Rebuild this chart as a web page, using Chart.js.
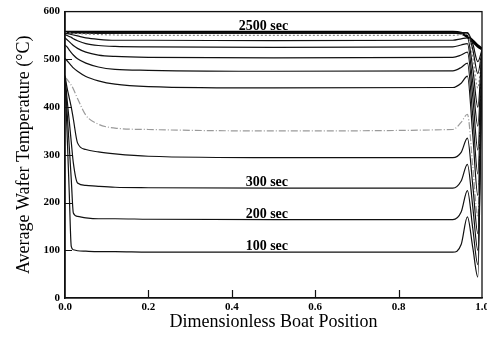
<!DOCTYPE html>
<html><head><meta charset="utf-8">
<script src="https://cdn.jsdelivr.net/npm/chart.js@4/dist/chart.umd.min.js"></script>
<style>html,body{margin:0;padding:0;background:#fff}#wrap{width:487px;height:339px}</style>
</head><body><div id="wrap"><canvas id="c"></canvas></div>
<script>
// Dimensionless boat position (x)
const positions = [0,0.005,0.01,0.015,0.02,0.03,0.05,0.08,0.12,0.2,0.5,0.93,0.95,0.965,0.978,0.99,1.0];
// Average wafer temperature (°C) per time
const t100  = [460,345,225,108,101,99,98,97,97,96,96,96,112,170,105,44,520];
const t200  = [462,390,320,249,178,171,168,166,166,165,164,164,180,225,145,70,520];
const t300  = [464,416,372,327,283,241,236,234,232,231,230,230,245,280,190,100,520];
const t400  = [466,440,420,400,375,325,311,306,302,297,294,294,305,335,235,135,520];
const t500  = [462,458,452,446,438,418,383,364,356,353,350,353,368,385,275,170,520];
const t700  = [502,497,492,487,482,475,464,455,448,443,440,441,450,465,340,215,520];
const t900  = [530,526,520,514,509,501,492,484,479,477,475,476,483,492,380,260,520];
const t1100 = [545,541,537,533,529,523,515,509,506,504,503,504,509,515,420,310,520];
const t1300 = [552,550,548,546,543,539,533,529,527,526,525,526,530,533,450,360,520];
const t1500 = [555,554,553,552,551,549,545,542,540,540,539,540,543,545,480,400,520];
const t1700 = [556,556,555,555,554,554,553,552,551,550,550,550,552,553,505,440,520];
const t1900 = [557,557,557,557,557,556,556,555,555,555,555,555,555,555,520,470,520];
const t2200 = [557,557,557,557,557,557,557,556,556,556,556,556,556,556,532,495,520];
const t2500 = [557,557,557,557,557,557,557,557,557,557,557,557,555,548,538,528,522];
const xTicks = [0,0.2,0.4,0.6,0.8,1.0];
const yTicks = [0,100,200,300,400,500,600];
const seriesNames = ['100 sec','200 sec','300 sec','400 sec','500 sec','700 sec','900 sec','1100 sec','1300 sec','1500 sec','1700 sec','1900 sec','2200 sec','2500 sec'];
const seriesValues = [t100,t200,t300,t400,t500,t700,t900,t1100,t1300,t1500,t1700,t1900,t2200,t2500];
const labelled = ['100 sec','200 sec','300 sec','2500 sec'];

const styleFor = name => {
  if (name === '500 sec') return {borderColor:'#9a9a9a', borderWidth:1.2, borderDash:[7,2,1,2]};
  if (name === '1700 sec') return {borderColor:'#8a8a8a', borderWidth:1.2, borderDash:[2,2]};
  if (name === '2500 sec') return {borderColor:'#000', borderWidth:3};
  return {borderColor:'#111', borderWidth:1.2};
};

const datasets = seriesNames.map((n,i)=>Object.assign({
  label:n,
  data: positions.map((x,j)=>({x:x, y:seriesValues[i][j]})),
  pointRadius:0, fill:false, cubicInterpolationMode:'monotone'
}, styleFor(n)));

const serif = '"Liberation Serif", "Times New Roman", serif';

const decor = {
  id:'decor',
  afterDatasetsDraw(chart){
    const {ctx, chartArea:a, scales:{x,y}} = chart;
    ctx.save();
    ctx.strokeStyle='#111'; ctx.lineWidth=1.3;
    ctx.strokeRect(a.left, a.top, a.right-a.left, a.bottom-a.top);
    ctx.lineWidth=1.2;
    ctx.beginPath();
    yTicks.forEach(v=>{ if(v>0 && v<600){ const py=Math.round(y.getPixelForValue(v))+0.5; ctx.moveTo(a.left,py); ctx.lineTo(a.left+7,py);} });
    xTicks.forEach(v=>{ if(v>0 && v<1){ const px=Math.round(x.getPixelForValue(v))+0.5; ctx.moveTo(px,a.bottom); ctx.lineTo(px,a.bottom-8);} });
    ctx.stroke();
    ctx.fillStyle='#000';
    ctx.font='bold 14px '+serif;
    ctx.textAlign='center'; ctx.textBaseline='alphabetic';
    labelled.forEach(n=>{
      const i = seriesNames.indexOf(n);
      const v = seriesValues[i][positions.indexOf(0.5)];
      const cx = n==='2500 sec' ? 0.476 : 0.484;
      ctx.fillText(n, x.getPixelForValue(cx), y.getPixelForValue(v) - 2);
    });
    ctx.restore();
  }
};

new Chart(document.getElementById('c'), {
  type:'line',
  data:{datasets},
  options:{
    responsive:true, maintainAspectRatio:false, animation:false,
    layout:{padding:{top:11, right:5, bottom:0, left:0}},
    plugins:{legend:{display:false}, tooltip:{enabled:false}},
    scales:{
      x:{type:'linear', min:0, max:1,
        afterBuildTicks: s=>{ s.ticks = xTicks.map(v=>({value:v})); },
        afterFit: s=>{ s.height = 41; s.paddingLeft=0; s.paddingRight=0; },
        grid:{display:false, drawTicks:false},
        border:{display:true, color:'#111', width:1.3},
        ticks:{padding:3, color:'#000', font:{family:serif, size:11, weight:'bold'}, maxRotation:0, autoSkip:false,
          callback:v=>Number(v).toFixed(1)},
        title:{display:true, text:'Dimensionless Boat Position', color:'#000', font:{family:serif, size:18}, padding:{top:0,bottom:6}}
      },
      y:{min:0, max:600,
        afterBuildTicks: s=>{ s.ticks = yTicks.map(v=>({value:v})); },
        afterFit: s=>{ s.width = 65; },
        grid:{display:false, drawTicks:false},
        border:{display:true, color:'#111', width:1.5},
        ticks:{padding:5, color:'#000', font:{family:serif, size:11, weight:'bold'}, autoSkip:false},
        title:{display:true, text:'Average Wafer Temperature (°C)', color:'#000', font:{family:serif, size:18}, padding:{top:13,bottom:0}}
      }
    }
  },
  plugins:[decor]
});
</script></body></html>
